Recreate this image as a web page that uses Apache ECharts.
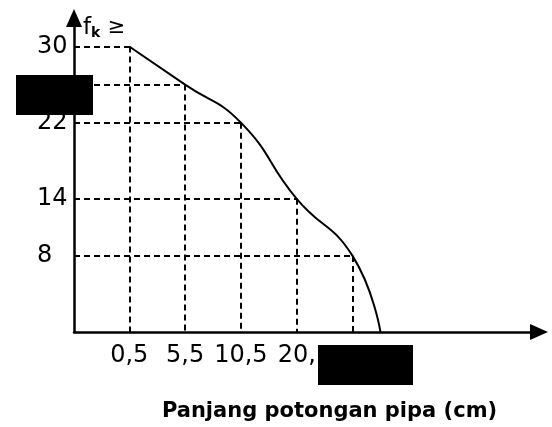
<!DOCTYPE html>
<html>
<head>
<meta charset="utf-8">
<script src="https://cdn.jsdelivr.net/npm/echarts@6/dist/echarts.min.js"></script>
<style>html,body{margin:0;padding:0;background:#fff;}#c{width:552px;height:427px;}</style>
</head>
<body>
<div id="c"></div>
<script>
// Class boundaries (x) and "more than" cumulative frequencies (y)
var xBoundaries = [0.5, 5.5, 10.5, 15.5, 20.5];
var cumFreq = [30, 26, 22, 14, 8];
var endPoint = [23, 0];
// Tick labels as visible in the figure (the 26 label is covered in the figure)
var xTickValues = [0.5, 5.5, 10.5, 15.5];
var xTickLabels = ['0,5', '5,5', '10,5', '20,'];
var yTickValues = [8, 14, 22, 30];
var yTickLabels = ['8', '14', '22', '30'];

var X_MIN = -4.45, X_MAX = 37.2;

var curve = xBoundaries.map(function (x, i) { return [x, cumFreq[i]]; });
curve.push(endPoint);

var dashLines = [];
xBoundaries.forEach(function (x, i) {
  var y = cumFreq[i];
  dashLines.push([{ coord: [X_MIN, y] }, { coord: [x, y] }]);
  dashLines.push([{ coord: [x, y] }, { coord: [x, 0] }]);
});

var chart = echarts.init(document.getElementById('c'), null, { renderer: 'canvas' });
var FONT = 'DejaVu Sans';
chart.setOption({
  animation: false,
  backgroundColor: '#fff',
  grid: { left: 74, right: 13, top: 18, bottom: 92, containLabel: false },
  xAxis: {
    type: 'value', min: X_MIN, max: X_MAX,
    name: 'Panjang potongan pipa (cm)',
    nameLocation: 'middle', nameGap: 69,
    nameTextStyle: { fontFamily: FONT, fontWeight: 'bold', fontSize: 21, color: '#000', padding: [0, 0, 0, 46] },
    axisLine: { show: true, onZero: false, symbol: ['none', 'triangle'], symbolSize: [16, 18], lineStyle: { color: '#000', width: 2.5 } },
    axisTick: { show: false },
    splitLine: { show: false },
    axisLabel: {
      customValues: xTickValues,
      formatter: function (v) { var i = xTickValues.indexOf(v); return i >= 0 ? xTickLabels[i] : ''; },
      fontFamily: FONT, fontSize: 24, color: '#000', margin: 12
    }
  },
  yAxis: {
    type: 'value', min: 0, max: 33,
    name: '{f|f}{k|k} {g|≥}',
    nameLocation: 'end', nameGap: -22,
    nameTextStyle: {
      fontFamily: FONT, fontSize: 23, color: '#000',
      align: 'left', padding: [0, 0, 0, 9],
      rich: {
        f: { fontFamily: FONT, fontSize: 23, color: '#000' },
        k: { fontFamily: FONT, fontSize: 14, color: '#000', fontWeight: 'bold', verticalAlign: 'bottom', padding: [10, 0, 0, 0] },
        g: { fontFamily: FONT, fontSize: 21, color: '#000' }
      }
    },
    axisLine: { show: true, onZero: false, symbol: ['none', 'triangle'], symbolSize: [16, 18], lineStyle: { color: '#000', width: 2.5 } },
    axisTick: { show: false },
    splitLine: { show: false },
    axisLabel: {
      customValues: yTickValues,
      formatter: function (v) { var i = yTickValues.indexOf(v); return i >= 0 ? yTickLabels[i] : ''; },
      fontFamily: FONT, fontSize: 24, color: '#000', align: 'left', margin: 37
    }
  },
  series: [{
    type: 'line',
    data: curve,
    smooth: 0.5,
    showSymbol: false,
    lineStyle: { color: '#000', width: 2 },
    markLine: {
      silent: true, symbol: ['none', 'none'],
      label: { show: false },
      lineStyle: { color: '#000', width: 2, type: [6, 4] },
      data: dashLines
    },
    z: 3
  }],
  graphic: [
    { type: 'rect', shape: { x: 16, y: 75, width: 77, height: 40 }, style: { fill: '#000' }, z: 100 },
    { type: 'rect', shape: { x: 318, y: 345, width: 95, height: 40 }, style: { fill: '#000' }, z: 100 }
  ]
});
</script>
</body>
</html>
